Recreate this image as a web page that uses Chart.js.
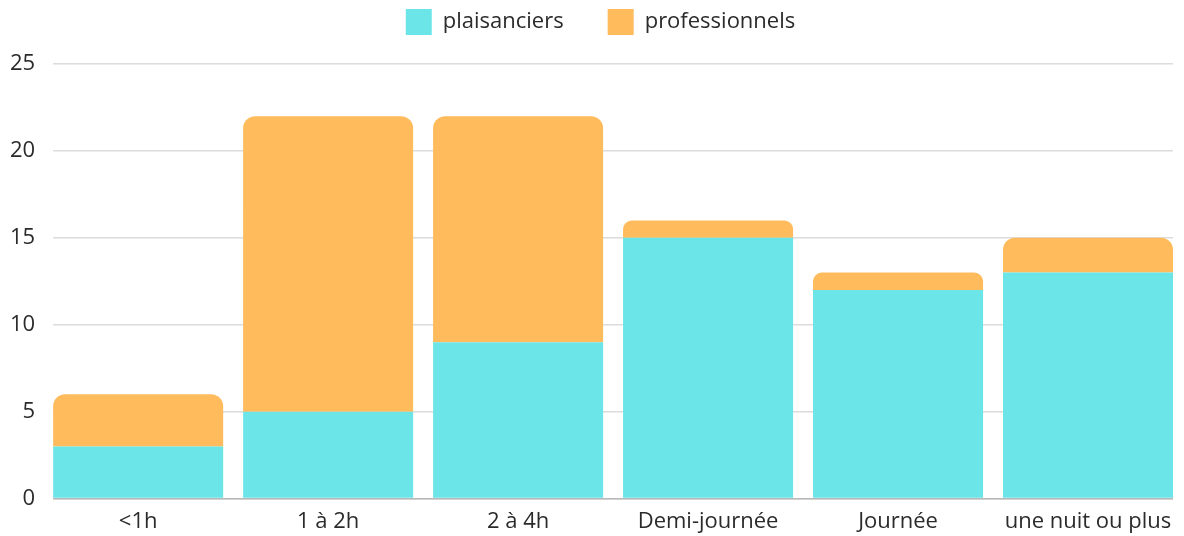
<!DOCTYPE html>
<html><head><meta charset="utf-8">
<script src="https://cdn.jsdelivr.net/npm/chart.js@4"></script>
<style>html,body{margin:0;padding:0;background:#fff}#wrap{width:1184px;height:536px}</style>
</head><body><div id="wrap"><canvas id="c" width="1184" height="536"></canvas></div>
<script>
const categories = ["<1h", "1 à 2h", "2 à 4h", "Demi-journée", "Journée", "une nuit ou plus"];
const plaisanciers = [3, 5, 9, 15, 12, 13];
const professionnels = [3, 17, 13, 1, 1, 2];
const yTicks = [0, 5, 10, 15, 20, 25];

Chart.defaults.font.family = "'Open Sans', sans-serif";
Chart.defaults.font.size = 22;
Chart.defaults.color = "#2b2b2b";

// legend: extra space below it, and a small horizontal shift
const legendSpace = {
  id: 'legendSpace',
  afterInit(chart) {
    const lg = chart.legend;
    if (!lg) return;
    const f = lg.fit.bind(lg);
    lg.fit = function () { f(); this.height = 100; };
    const d = lg.draw.bind(lg);
    lg.draw = function () { const c = this.ctx; c.save(); c.translate(8, 1); d(); c.restore(); };
  }
};
// keep gridlines / axis line within the span of the bars
const gridClip = {
  id: 'gridClip',
  beforeDraw(chart) {
    const a = chart.chartArea;
    const meta = chart.getDatasetMeta(0).data;
    if (!meta.length) return;
    const first = meta[0], last = meta[meta.length - 1];
    const l = first.x - first.width / 2, r = last.x + last.width / 2;
    const ctx = chart.ctx;
    ctx.save();
    ctx.beginPath();
    ctx.rect(0, 0, chart.width, chart.height);
    ctx.rect(a.left - 2, a.top - 3, l - a.left + 2, a.bottom - a.top + 6);
    ctx.rect(r, a.top - 3, a.right - r + 2, a.bottom - a.top + 6);
    ctx.clip('evenodd');
  },
  beforeDatasetsDraw(chart) { chart.ctx.restore(); }
};

new Chart(document.getElementById('c'), {
  type: 'bar',
  data: {
    labels: categories,
    datasets: [
      { label: 'plaisanciers', data: plaisanciers, backgroundColor: '#6CE5E8', borderRadius: 0, borderSkipped: false },
      { label: 'professionnels', data: professionnels, backgroundColor: '#FFBB5C',
        borderRadius: {topLeft: 12, topRight: 12, bottomLeft: 0, bottomRight: 0}, borderSkipped: false }
    ]
  },
  plugins: [legendSpace, gridClip],
  options: {
    responsive: false,
    animation: false,
    layout: { padding: { left: 2, right: 1, top: -36, bottom: -9 } },
    datasets: { bar: { categoryPercentage: 1.0, barPercentage: 0.895 } },
    plugins: {
      legend: {
        position: 'top',
        labels: { boxWidth: 26, boxHeight: 26, padding: 44, font: { size: 22 }, color: '#2b2b2b' }
      },
      tooltip: { enabled: false }
    },
    scales: {
      x: {
        stacked: true,
        grid: { display: false, drawTicks: false },
        border: { display: true, color: '#b8b8b8', width: 1.5 },
        ticks: { font: { size: 22 }, color: '#2b2b2b', padding: 10, maxRotation: 0, autoSkip: false }
      },
      y: {
        stacked: true,
        min: 0, max: 25,
        afterBuildTicks: (s) => { s.ticks = yTicks.map(v => ({ value: v })); },
        grid: { color: '#dcdcdc', lineWidth: 1.5, drawTicks: false },
        border: { display: false },
        ticks: { font: { size: 22 }, color: '#2b2b2b', padding: 8 }
      }
    }
  }
});
</script></body></html>
